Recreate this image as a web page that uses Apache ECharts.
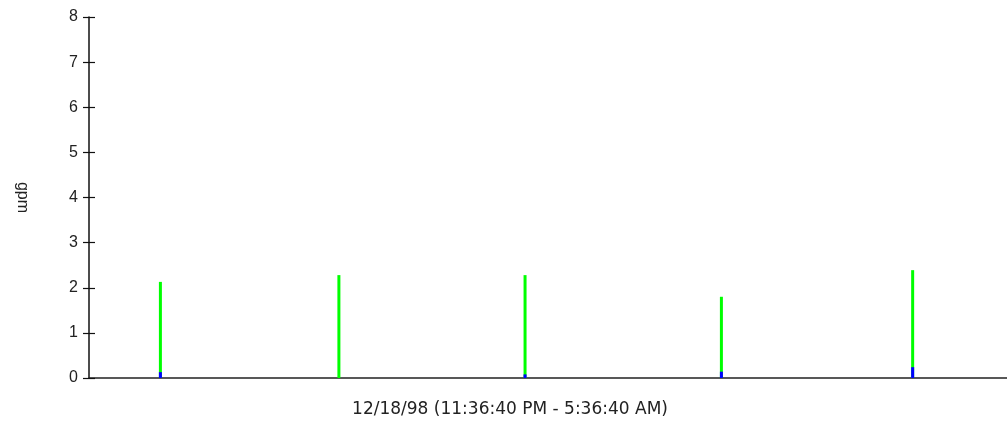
<!DOCTYPE html>
<html>
<head>
<meta charset="utf-8">
<style>
  html, body { margin: 0; padding: 0; background: #ffffff; }
  #chart { width: 1007px; height: 424px; }
</style>
<script src="https://cdn.jsdelivr.net/npm/echarts@6/dist/echarts.min.js"></script>
</head>
<body>
<div id="chart"></div>
<script>
// Flow readings over the period, as minutes after 11:36:40 PM
const sampleMinutes = [28, 98, 171, 248, 323];
// Blue (lower) and green (upper) portions of each stacked spike, in gpm
const baseFlow = [0.13, 0.0, 0.08, 0.14, 0.24];
const peakFlow = [2.0, 2.28, 2.2, 1.66, 2.15];
const yTicks = [0, 1, 2, 3, 4, 5, 6, 7, 8];
const periodLabel = '12/18/98 (11:36:40 PM - 5:36:40 AM)';
const yName = 'gpm';

const chart = echarts.init(document.getElementById('chart'), null, { renderer: 'canvas' });
const font = '"Liberation Sans", Arial, sans-serif';

// The green part sits on top of the blue one, so its bar reaches the summed value;
// the blue bar is drawn over its lower end.
const greenTops = peakFlow.map((v, i) => [sampleMinutes[i], +(v + baseFlow[i]).toFixed(3)]);
const blueBars = baseFlow.map((v, i) => [sampleMinutes[i], v]);

const option = {
  animation: false,
  backgroundColor: '#ffffff',
  grid: { left: 89, right: 0, top: 17, bottom: 46, containLabel: false },
  xAxis: {
    type: 'value', min: 0, max: 360,
    axisLine: { show: true, onZero: false, lineStyle: { color: '#222222', width: 1.5 } },
    axisTick: { show: false },
    axisLabel: { show: false },
    splitLine: { show: false }
  },
  yAxis: [
    {
      type: 'value', min: yTicks[0], max: yTicks[yTicks.length - 1], interval: 1,
      name: yName, nameLocation: 'middle', nameRotate: -90, nameGap: 59,
      nameTextStyle: { fontFamily: font, fontSize: 16, color: '#222222' },
      axisLine: { show: true, lineStyle: { color: '#111111', width: 1.5 } },
      axisTick: { show: true, length: 6, lineStyle: { color: '#111111', width: 1.2 } },
      axisLabel: { margin: 11, fontFamily: font, fontSize: 16, color: '#222222' },
      splitLine: { show: false }
    },
    {
      type: 'value', min: yTicks[0], max: yTicks[yTicks.length - 1], interval: 1,
      position: 'left',
      axisLine: { show: false },
      axisTick: { show: true, inside: true, length: 6, lineStyle: { color: '#111111', width: 1.2 } },
      axisLabel: { show: false },
      splitLine: { show: false }
    }
  ],
  graphic: [{
    type: 'text', x: 510, y: 401,
    style: {
      text: periodLabel, fontFamily: '"DejaVu Sans", sans-serif', fontSize: 17,
      fill: '#222222', align: 'center', textAlign: 'center', verticalAlign: 'top'
    }
  }],
  series: [
    {
      type: 'bar', barWidth: 3, barGap: '-100%', z: 2,
      itemStyle: { color: '#00ff00' },
      data: greenTops
    },
    {
      type: 'bar', barWidth: 3, barGap: '-100%', z: 3,
      itemStyle: { color: '#0000ff' },
      data: blueBars
    }
  ]
};
chart.setOption(option);
</script>
</body>
</html>
